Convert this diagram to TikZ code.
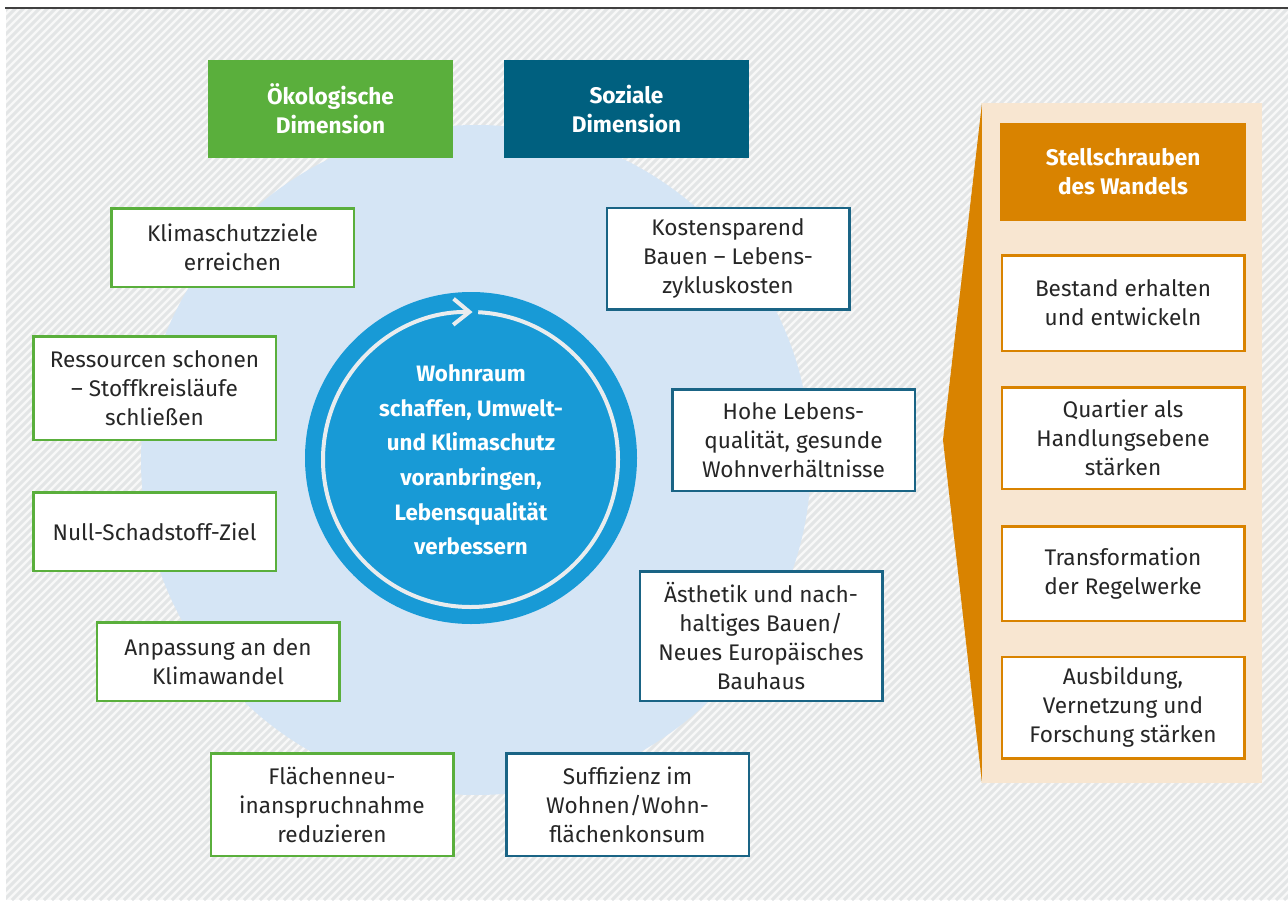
\documentclass[tikz,border=0pt]{standalone}
\usepackage{fontspec}
\setmainfont{Fira Sans}
\usetikzlibrary{arrows.meta}

\definecolor{ecogreen}{HTML}{5AAF3C}
\definecolor{socblue}{HTML}{00607F}
\definecolor{socline}{HTML}{1A6485}
\definecolor{leverorange}{HTML}{D98300}
\definecolor{leverbeige}{HTML}{F8E6D1}
\definecolor{circlelight}{HTML}{D5E5F5}
\definecolor{circlemid}{HTML}{189AD6}
\definecolor{ringgray}{HTML}{E9ECEE}
\definecolor{hatchgray}{HTML}{E3E5E6}
\definecolor{hatchback}{HTML}{F8F8F8}
\definecolor{textdark}{HTML}{262626}

\begin{document}
\begin{tikzpicture}[x=1pt, y=1pt,
  box/.style={draw, line width=2.5pt, fill=white, minimum width=242.5pt, align=center,
    text=textdark, font=\fontsize{22.6}{29}\selectfont, inner sep=0pt},
  ecobox/.style={box, draw=ecogreen},
  socbox/.style={box, draw=socline},
  leverbox/.style={box, draw=leverorange},
  headbox/.style={minimum width=245pt, minimum height=98pt, align=center, text=white,
    font=\bfseries\fontsize{22.6}{29}\selectfont, inner sep=0pt}]
  \useasboundingbox (0,0) rectangle (1288,-900);
  \fill[white] (0,0) rectangle (1288,-900);
  % hatched background
  \begin{scope}
    \clip (6,-9) rectangle (1288,-900);
    \fill[hatchback] (6,-9) rectangle (1288,-900);
    \foreach \x in {-900,-892,...,1296}
      \draw[hatchgray, line width=3pt] (\x,-900) -- ++(900,900);
  \end{scope}
  \draw[black!75, line width=2pt] (5,-8) -- (1288,-8);

  % circles
  \fill[circlelight] (476,-460) circle (335);
  \fill[circlemid] (471,-458) circle (166);
  \draw[ringgray, line width=4pt, -{Straight Barb[length=16pt, width=26pt]}]
    (470.5,-459.5) ++(87:147.5) arc (87:-270.8:147.5);
  \node[text=white, align=center, font=\bfseries\fontsize{22.3}{34.6}\selectfont] (ziel) at (471,-460)
    {Wohnraum\\schaffen, Umwelt-\\und Klimaschutz\\voranbringen,\\Lebensqualität\\verbessern};

  % dimensions
  \node[headbox, fill=ecogreen] (oeko) at (330.5,-109) {Ökologische\\Dimension};
  \node[headbox, fill=socblue] (sozial) at (626.5,-109) {Soziale\\Dimension};

  \node[ecobox, minimum height=78.5pt] (klima) at (232.5,-247.5) {Klimaschutzziele\\erreichen};
  \node[ecobox, minimum height=103.5pt] (ressourcen) at (154.5,-388) {Ressourcen schonen\\– Stoffkreisläufe\\schließen};
  \node[ecobox, minimum height=78.5pt] (null) at (154.5,-531.5) {Null-Schadstoff-Ziel};
  \node[ecobox, minimum height=78.5pt] (anpassung) at (218,-661.5) {Anpassung an den\\Klimawandel};
  \node[ecobox, minimum height=102.5pt] (flaeche) at (332,-804.5) {Flächenneu-\\inanspruchnahme\\reduzieren};

  \node[socbox, minimum height=101.5pt] (kosten) at (728,-258.5) {Kostensparend\\Bauen – Lebens-\\zykluskosten};
  \node[socbox, minimum height=101.5pt] (qualitaet) at (793.5,-440) {Hohe Lebens-\\qualität, gesunde\\Wohnverhältnisse};
  \node[socbox, minimum height=129.5pt] (bauhaus) at (761,-636) {Ästhetik und nach-\\haltiges Bauen/\\Neues Europäisches\\Bauhaus};
  \node[socbox, minimum height=102.5pt] (suffizienz) at (627.5,-804.5) {Suffizienz im\\Wohnen/Wohn-\\flächenkonsum};

  % levers
  \fill[leverorange] (982,-103) -- (943,-440) -- (982,-783) -- cycle;
  \fill[leverbeige] (982,-103) rectangle (1262,-783);
  \node[headbox, fill=leverorange, minimum width=246pt] (wandel) at (1123,-172) {Stellschrauben\\des Wandels};
  \node[leverbox, minimum height=95.5pt] (bestand) at (1123,-303) {Bestand erhalten\\und entwickeln};
  \node[leverbox, minimum height=101.5pt] (quartier) at (1123,-438) {Quartier als\\Handlungsebene\\stärken};
  \node[leverbox, minimum height=94.5pt] (regelwerke) at (1123,-573.5) {Transformation\\der Regelwerke};
  \node[leverbox, minimum height=101.5pt] (ausbildung) at (1123,-707.5) {Ausbildung,\\Vernetzung und\\Forschung stärken};
\end{tikzpicture}
\end{document}
